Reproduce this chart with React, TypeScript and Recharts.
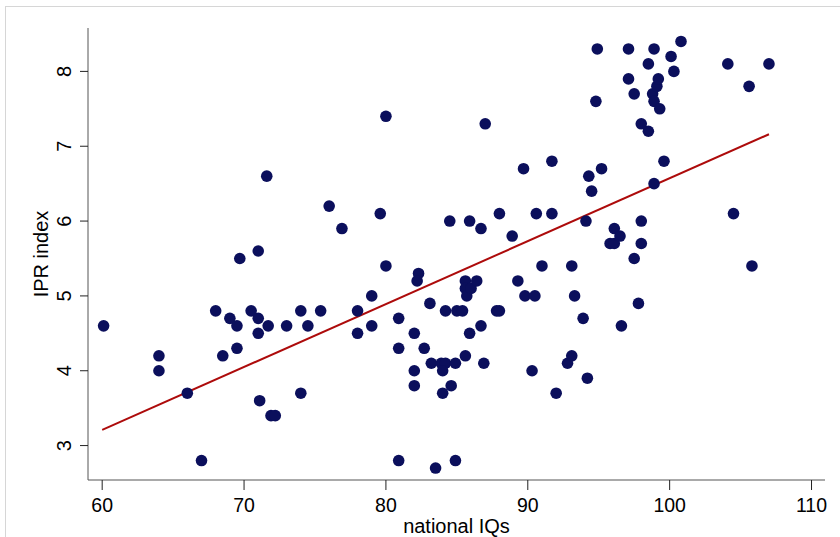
import React from "react";
import { ScatterChart, Scatter, XAxis, YAxis, ReferenceLine } from "recharts";

// national IQ vs IPR index
const iq = [
  60.1, 64.0, 64.0, 66.0, 67.0, 68.0, 68.5, 69.0, 69.5, 69.5, 69.7, 70.5, 71.0, 71.0, 71.0, 71.1,
  71.6, 71.7, 71.9, 72.2, 73.0, 74.0, 74.0, 74.5, 75.4, 76.0, 76.9, 78.0, 78.0, 79.0, 79.0, 79.6,
  80.0, 80.0, 80.9, 80.9, 80.9, 82.0, 82.0, 82.0, 82.3, 82.2, 82.7, 83.1, 83.2, 83.5, 83.9, 84.2,
  84.0, 84.0, 84.2, 84.5, 84.6, 84.9, 84.9, 85.0, 85.4, 85.6, 85.6, 85.6, 85.7, 85.9, 85.9, 86.0,
  86.4, 86.7, 86.7, 86.9, 87.0, 87.8, 88.0, 88.0, 88.9, 89.3, 89.7, 89.8, 90.3, 90.5, 90.6, 91.0,
  91.7, 91.7, 92.0, 92.8, 93.1, 93.1, 93.3, 93.9, 94.1, 94.2, 94.3, 94.5, 94.8, 94.9, 95.2, 95.8,
  96.1, 96.1, 96.5, 96.6, 97.1, 97.1, 97.5, 97.5, 97.8, 98.0, 98.0, 98.0, 98.5, 98.5, 98.8, 98.9,
  98.9, 98.9, 99.1, 99.2, 99.3, 99.6, 100.1, 100.3, 100.8, 104.1, 104.5, 105.6, 105.8, 107.0,
];
const ipr = [
  4.6, 4.2, 4.0, 3.7, 2.8, 4.8, 4.2, 4.7, 4.6, 4.3, 5.5, 4.8, 5.6, 4.7, 4.5, 3.6,
  6.6, 4.6, 3.4, 3.4, 4.6, 4.8, 3.7, 4.6, 4.8, 6.2, 5.9, 4.8, 4.5, 5.0, 4.6, 6.1,
  7.4, 5.4, 4.7, 4.3, 2.8, 4.5, 4.0, 3.8, 5.3, 5.2, 4.3, 4.9, 4.1, 2.7, 4.1, 4.1,
  4.0, 3.7, 4.8, 6.0, 3.8, 4.1, 2.8, 4.8, 4.8, 5.2, 5.1, 4.2, 5.0, 6.0, 4.5, 5.1,
  5.2, 5.9, 4.6, 4.1, 7.3, 4.8, 4.8, 6.1, 5.8, 5.2, 6.7, 5.0, 4.0, 5.0, 6.1, 5.4,
  6.8, 6.1, 3.7, 4.1, 4.2, 5.4, 5.0, 4.7, 6.0, 3.9, 6.6, 6.4, 7.6, 8.3, 6.7, 5.7,
  5.7, 5.9, 5.8, 4.6, 8.3, 7.9, 7.7, 5.5, 4.9, 7.3, 6.0, 5.7, 8.1, 7.2, 7.7, 8.3,
  7.6, 6.5, 7.8, 7.9, 7.5, 6.8, 8.2, 8.0, 8.4, 8.1, 6.1, 7.8, 5.4, 8.1,
];

// fitted line end points
const fitX = [60, 107];
const fitY = [3.21, 7.16];

const xTicks = [60, 70, 80, 90, 100, 110];
const yTicks = [3, 4, 5, 6, 7, 8];

const points = iq.map((x, i) => ({ x, y: ipr[i] }));

const FONT = "'Liberation Sans', Arial, sans-serif";
const DOT = "#0b0f5c";
const FIT = "#ad0b0b";

const Dot = (props: any) => <circle cx={props.cx} cy={props.cy} r={5.8} fill={DOT} />;

const YTick = (props: any) => {
  const { x, y, payload } = props;
  return (
    <text
      transform={`translate(${x}, ${y}) rotate(-90)`}
      textAnchor="middle"
      fontSize={20}
      fontFamily={FONT}
      fill="#000"
    >
      {payload.value}
    </text>
  );
};

export default function App() {
  return (
    <div style={{ position: "absolute", left: 0, top: 0, width: 840, height: 537, background: "#fff" }}>
      <div
        style={{
          position: "absolute",
          left: 5,
          top: 6,
          width: 835,
          height: 531,
          borderLeft: "1px solid #d6d6d6",
          borderTop: "1px solid #d6d6d6",
        }}
      />
      <div style={{ position: "absolute", left: 0, top: 0 }}>
        <ScatterChart width={840} height={537} margin={{ top: 28, right: 15, bottom: 17, left: 28 }}>
          <XAxis
            type="number"
            dataKey="x"
            domain={[59.0, 110.95]}
            ticks={xTicks}
            allowDataOverflow
            tickSize={10}
            tickMargin={8}
            height={40}
            stroke="#555"
            tickLine={{ stroke: "#222" }}
            tick={{ fill: "#000", fontSize: 19.5, fontFamily: FONT }}
            label={{
              content: (p: any) => {
                const vb = p.viewBox;
                return (
                  <text x={vb.x + vb.width / 2} y={vb.y + 53} textAnchor="middle" fontSize={20} fontFamily={FONT} fill="#000">
                    national IQs
                  </text>
                );
              },
            }}
          />
          <YAxis
            type="number"
            dataKey="y"
            domain={[2.54, 8.58]}
            ticks={yTicks}
            allowDataOverflow
            width={60}
            tickSize={8}
            tickMargin={9}
            stroke="#555"
            tickLine={{ stroke: "#222" }}
            tick={<YTick />}
            label={{
              content: (p: any) => {
                const vb = p.viewBox;
                return (
                  <text
                    transform={`translate(${vb.x + 20}, ${vb.y + vb.height / 2}) rotate(-90)`}
                    textAnchor="middle"
                    fontSize={20}
                    fontFamily={FONT}
                    fill="#000"
                  >
                    IPR index
                  </text>
                );
              },
            }}
          />
          <Scatter data={points} shape={Dot} isAnimationActive={false} />
          <ReferenceLine
            segment={[
              { x: fitX[0], y: fitY[0] },
              { x: fitX[1], y: fitY[1] },
            ]}
            stroke={FIT}
            strokeWidth={2}
          />
        </ScatterChart>
      </div>
    </div>
  );
}
